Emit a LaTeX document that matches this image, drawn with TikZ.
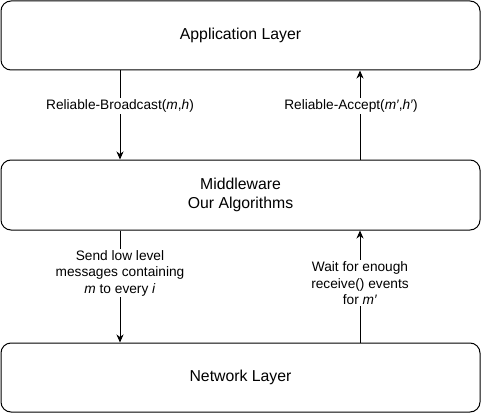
\documentclass[tikz,border=0pt]{standalone}
\usepackage{fontspec}
\setmainfont{Liberation Sans}
\usetikzlibrary{arrows.meta}
\tikzset{
	layer/.style={draw,rounded corners=10pt,line width=1pt,minimum width=479pt,font=\fontsize{15.8}{18.2}\selectfont,align=center},
	arr/.style={-{Stealth[length=8pt,width=7pt,inset=2.5pt]},line width=1pt},
	lbl/.style={fill=white,inner sep=1.5pt,align=center,font=\fontsize{13.7}{16.4}\selectfont}
}

\begin{document}
\begin{tikzpicture}[x=1pt,y=-1pt]
	\useasboundingbox (0,0) rectangle (481,414);
	\node[layer,minimum height=69pt] (app) at (240.5,35.5) {Application Layer};
	\node[layer,minimum height=70pt] (mid) at (240.5,195) {Middleware\\Our Algorithms};
	\node[layer,minimum height=69pt] (net) at (240.5,377.5) {Network Layer};
	% upper pair
	\draw[arr] (app.south -| 120,0) -- node[lbl,pos=0.4] {Reliable-Broadcast(\textit{m},\textit{h})} (mid.north -| 120,0);
	\draw[arr] (mid.north -| 360,0) -- node[lbl,pos=0.6,xshift=-9pt] {Reliable-Accept(\textit{m′},\textit{h′})} (app.south -| 360,0);
	% lower pair
	\draw[arr] (mid.south -| 120,0) -- node[lbl,pos=0.38] {Send low level\\messages containing\\\textit{m} to every \textit{i}} (net.north -| 120,0);
	\draw[arr] (net.north -| 360,0) -- node[lbl,pos=0.53] {Wait for enough\\receive() events\\for \textit{m′}} (mid.south -| 360,0);
\end{tikzpicture}
\end{document}
